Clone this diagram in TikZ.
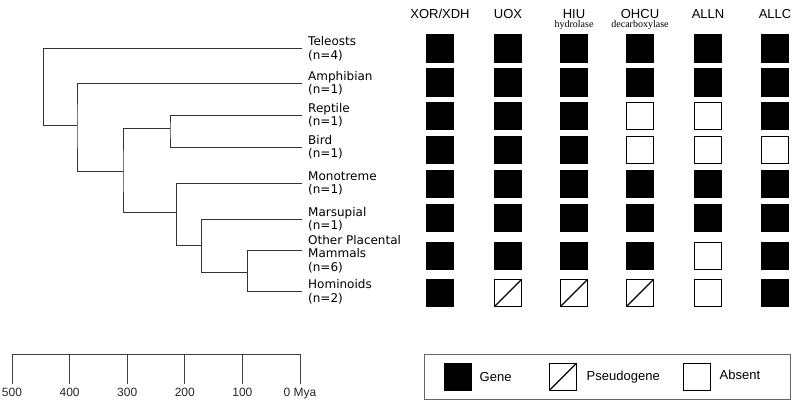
\documentclass[tikz,border=0pt]{standalone}
\usepackage{fontspec}
\setmainfont{Liberation Sans}
\newfontfamily\treefont{DejaVu Sans}
\newfontfamily\subfont{Liberation Serif}
\usetikzlibrary{positioning}

\tikzset{
  branch/.style={line width=0.9pt, black!80},
  scalebar/.style={line width=0.9pt, black!75},
  cell/.style={draw, minimum size=27pt, inner sep=0pt, line width=1.4pt},
  stG/.style={cell, fill=black},
  stA/.style={cell, fill=white},
  stP/.style={cell, fill=white, path picture={
      \draw[line width=1.3pt] (path picture bounding box.south west)
        -- (path picture bounding box.north east);}},
  taxon/.style={anchor=west, align=left, inner sep=0pt,
      font=\treefont\fontsize{12}{13.5}\selectfont},
  head/.style={anchor=base, inner sep=0pt, font=\fontsize{13}{15}\selectfont},
  sub/.style={inner sep=0pt, font=\subfont\fontsize{10}{12}\selectfont},
  tick/.style={font=\fontsize{12}{14}\selectfont, black!85},
  keytext/.style={font=\fontsize{13}{15}\selectfont}
}

\begin{document}
\begin{tikzpicture}[x=1pt,y=-1pt]
\useasboundingbox (0,0) rectangle (800,406);

\foreach \t/\y in {tel/48.7, amp/83.3, rep/115.3, bir/147.3,
                   mon/183.3, mar/219.3, oth/250, hom/291.7}
  \coordinate (\t) at (302,\y);

\coordinate (n1) at (43,125);
\coordinate (n2) at (77,125);
\coordinate (n3) at (123,171.7);
\coordinate (n4) at (170,128.7);
\coordinate (n5) at (176.7,212.3);
\coordinate (n6) at (201.7,245);
\coordinate (n7) at (247.3,272.3);

\draw[branch] (tel) -| (n1) -- (n2);
\draw[branch] (amp) -| (n2) |- (n3);
\draw[branch] (rep) -| (n4) |- (bir);
\draw[branch] (n4) -| (n3) |- (n5);
\draw[branch] (mon) -| (n5) |- (n6);
\draw[branch] (mar) -| (n6) |- (n7);
\draw[branch] (oth) -| (n7) |- (hom);

\node[taxon, right=6pt of tel] {Teleosts\\(n=4)};
\node[taxon, right=6pt of amp] {Amphibian\\(n=1)};
\node[taxon, right=6pt of rep] {Reptile\\(n=1)};
\node[taxon, right=6pt of bir] {Bird\\(n=1)};
\node[taxon, right=6pt of mon] {Monotreme\\(n=1)};
\node[taxon, right=6pt of mar] {Marsupial\\(n=1)};
\node[taxon, right=6pt of oth, yshift=-4pt] {Other Placental\\Mammals\\(n=6)};
\node[taxon, right=6pt of hom] {Hominoids\\(n=2)};

\node[head] (h1) at (440,18.5) {XOR/XDH};
\node[head] (h2) at (508,18.5) {UOX};
\node[head] (h3) at (574,18.5) {HIU};
\node[head] (h4) at (640,18.5) {OHCU};
\node[head] (h5) at (708,18.5) {ALLN};
\node[head] (h6) at (775,18.5) {ALLC};
\node[sub, below=2pt of h3] {hydrolase};
\node[sub, below=2pt of h4] {decarboxylase};

\foreach \y/\row [count=\r] in {48.5/{G,G,G,G,G,G}, 82.5/{G,G,G,G,G,G},
    116/{G,G,G,A,A,G}, 150/{G,G,G,A,A,A}, 184/{G,G,G,G,G,G},
    218/{G,G,G,G,G,G}, 256/{G,G,G,G,A,G}, 293/{G,P,P,P,A,G}}
  \foreach \s [count=\c] in \row
    \node[st\s] (b\r-\c) at (h\c |- 0,\y) {};

\foreach \v/\txt in {500/500, 400/400, 300/300, 200/200, 100/100, 0/0 Mya} {
  \coordinate (t\v) at ({300-0.576*\v},354.3);
  \coordinate (e\v) at ({300-0.576*\v},384);
  \draw[scalebar] (t\v) -- (e\v);
  \node[tick, below=1pt of e\v] {\txt};
}
\draw[scalebar] (t500) -- (t0);

\node[draw, black!60, line width=1pt, minimum width=366pt,
      minimum height=44.7pt] (key) at (607,376.7) {};
\node[stG] (kG) at (458,376.7) {};
\node[keytext, right=4pt of kG] {Gene};
\node[stP] (kP) at (563,376.7) {};
\node[keytext, right=6pt of kP] {Pseudogene};
\node[stA] (kA) at (697,376.7) {};
\node[keytext, right=5pt of kA, yshift=2pt] {Absent};
\end{tikzpicture}
\end{document}
